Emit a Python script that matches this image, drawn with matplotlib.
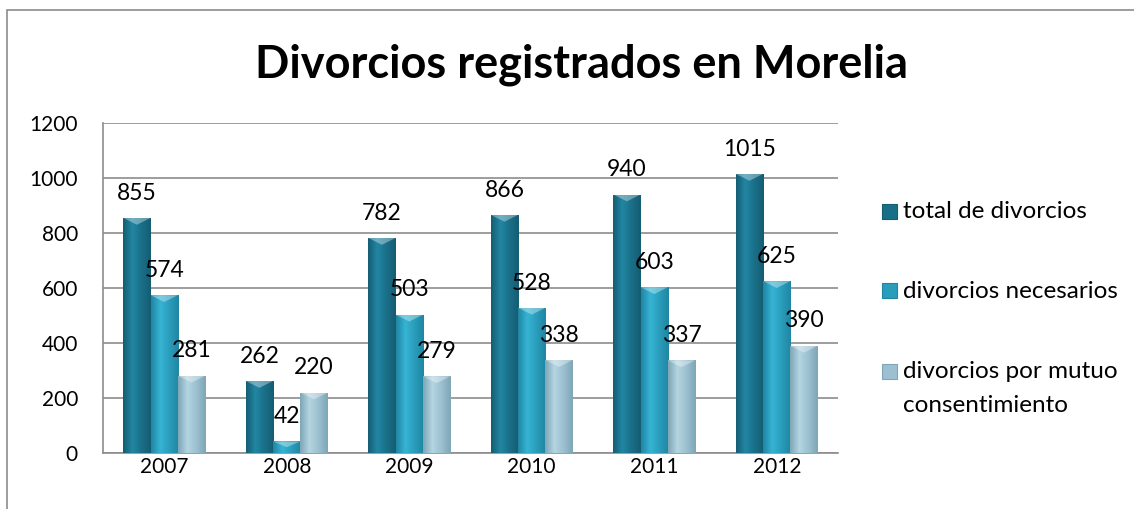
import numpy as np
import matplotlib.pyplot as plt
from matplotlib.patches import Rectangle, Polygon
from matplotlib.colors import LinearSegmentedColormap

plt.rcParams['font.family'] = ['Lato', 'DejaVu Sans']

years = ["2007", "2008", "2009", "2010", "2011", "2012"]
total = [855, 262, 782, 866, 940, 1015]
necesarios = [574, 42, 503, 528, 603, 625]
mutuo = [281, 220, 279, 338, 337, 390]

names = ["total de divorcios", "divorcios necesarios", "divorcios por mutuo\nconsentimiento"]
data = [total, necesarios, mutuo]
shades = [("#155d73", "#2287a3", "#1a6f88"),
          ("#1f86a3", "#36b4d4", "#2a9dbb"),
          ("#7ea6b6", "#b4d5e2", "#9cc0cf")]

W, H = 1134, 509
fig = plt.figure(figsize=(W / 100, H / 100), dpi=100)
ax = fig.add_axes([103 / W, 1 - 453 / H, 735 / W, 330 / H])

# outer chart frame
fig.patches.append(Rectangle((7 / W, -0.1), 1.2, 1 - 10 / H + 0.1,
                             transform=fig.transFigure, fill=False,
                             edgecolor="#8c8c8c", linewidth=1.2))

x = np.arange(len(years))
w = 0.223
offsets = [-w, 0, w]
grad = np.linspace(0, 1, 64).reshape(1, -1)

for name, vals, (edge, mid, base), off in zip(names, data, shades, offsets):
    bars = ax.bar(x + off, vals, w, color=base, zorder=2, linewidth=0)
    cmap = LinearSegmentedColormap.from_list(name, [edge, mid, base, edge])
    for b, v in zip(bars, vals):
        bx, bw, bh = b.get_x(), b.get_width(), b.get_height()
        im = ax.imshow(grad, cmap=cmap, extent=[bx, bx + bw, 0, bh],
                       aspect="auto", zorder=3, interpolation="bicubic")
        im.set_clip_path(b)
        cap = min(25, bh * 0.5)
        ax.add_patch(Polygon([[bx, bh], [bx + bw, bh], [bx + bw * 0.5, bh - cap]],
                             closed=True, facecolor="white", alpha=0.35,
                             linewidth=0, zorder=4))
        ax.text(bx + bw / 2, bh + 52, str(v), ha="center", va="bottom",
                fontsize=16.5, color="black", zorder=5)

ax.set_xlim(-0.5, len(years) - 0.5)
ax.set_ylim(0, 1200)
ax.set_yticks(range(0, 1201, 200))
ax.set_xticks(x)
ax.set_xticklabels(years)
ax.tick_params(axis="both", length=0, labelsize=15)
ax.tick_params(axis="x", pad=3)
ax.tick_params(axis="y", pad=18)
ax.yaxis.grid(True, color="#8c8c8c", linewidth=1.2, zorder=0)
ax.set_axisbelow(True)
for s in ["top", "right"]:
    ax.spines[s].set_visible(False)
for s in ["left", "bottom"]:
    ax.spines[s].set_color("#8c8c8c")
    ax.spines[s].set_linewidth(1.2)

fig.text(0.5 * (255 + 908) / W, 1 - 65 / H, "Divorcios registrados en Morelia",
         ha="center", va="center", fontsize=32.5, fontweight="bold")

# legend drawn by hand so the marker sits on the first line of each label
leg_rows = [212, 291, 372]
for name, (edge, mid, base), yr in zip(names, shades, leg_rows):
    fig.patches.append(Rectangle((882 / W, 1 - (yr + 7) / H), 15 / W, 15 / H,
                                 transform=fig.transFigure, facecolor=base,
                                 edgecolor=edge, linewidth=0.8))
    fig.text(903 / W, 1 - yr / H, name.split("\n")[0], ha="left", va="center",
             fontsize=17.5)
    if "\n" in name:
        fig.text(903 / W, 1 - (yr + 33) / H, name.split("\n")[1], ha="left",
                 va="center", fontsize=17.5)

fig.savefig("out.png", dpi=100)
